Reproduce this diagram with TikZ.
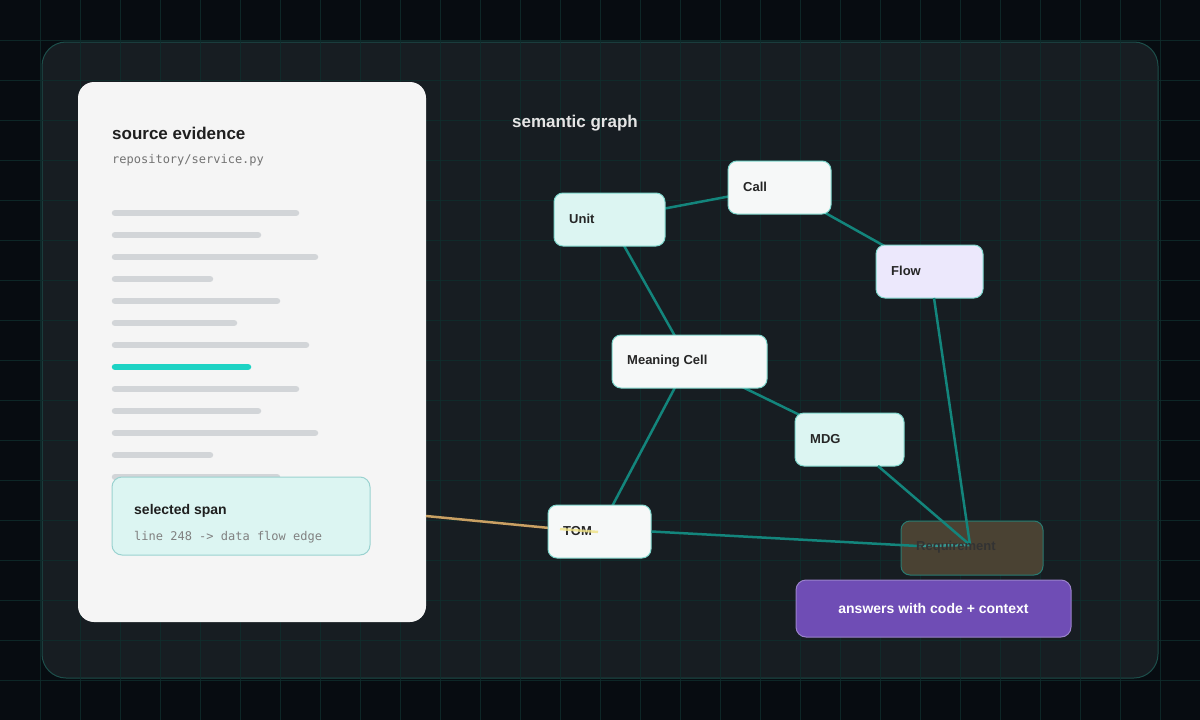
\documentclass[tikz,border=0pt]{standalone}
\usepackage{fontspec}
\setmainfont{Liberation Sans}
\setmonofont{DejaVu Sans Mono}
\begin{document}
\begin{tikzpicture}[x=1pt,y=-1pt,
  lbl/.style={font=\fontsize{13}{15}\selectfont\bfseries,text=black!85,anchor=west,inner sep=0pt},
  edge/.style={draw=teal0,line width=2.5pt},
  bar/.style={line width=6.5pt,line cap=round,draw=gray0}]
\definecolor{bg}{HTML}{070C11}
\definecolor{gridc}{HTML}{0F2E2D}
\definecolor{panel}{HTML}{1A2026}
\definecolor{panelb}{HTML}{1D4E4A}
\definecolor{teal0}{HTML}{13857C}
\definecolor{gray0}{HTML}{D2D5D8}
\definecolor{cyanbar}{HTML}{1DD3C4}
\definecolor{mint}{HTML}{DCF5F2}
\definecolor{mintb}{HTML}{7FD6CC}
\definecolor{wht}{HTML}{F6F8F8}
\definecolor{lav}{HTML}{ECE8FC}
\definecolor{reqf}{HTML}{4A4233}
\definecolor{reqb}{HTML}{2A7A70}
\definecolor{purp}{HTML}{6F4DB5}
\definecolor{gold}{HTML}{C9A063}
\useasboundingbox (0,0) rectangle (1200,720);
\fill[bg] (0,0) rectangle (1200,720);
\node[draw=panelb,fill=panel,fill opacity=0.85,rounded corners=24pt,line width=1pt,minimum width=1116pt,minimum height=636pt,inner sep=0pt] (outer) at (600,360) {};
\foreach \i in {40,80,...,1160} \draw[gridc,line width=1pt,opacity=0.8] (\i,0)--(\i,720);
\foreach \i in {40,80,...,680} \draw[gridc,line width=1pt,opacity=0.8] (0,\i)--(1200,\i);
% source panel
\node[fill=white!96!black,rounded corners=16pt,minimum width=348pt,minimum height=540pt,inner sep=0pt] (src) at (252,352) {};
\node[anchor=west,inner sep=0pt,font=\fontsize{17}{19}\selectfont\bfseries,text=black!88] (t1) at (112,133) {source evidence};
\node[anchor=west,inner sep=0pt,font=\ttfamily\fontsize{12}{14}\selectfont,text=black!55] (t2) at (112,160) {repository/service.py};
\foreach \y/\e in {213/299,235/261,257/318,279/213,301/280,323/237,345/309,389/299,411/261,433/318,455/213,477/280}
  \draw[bar] (115,\y)--(\e-3,\y);
\draw[bar,draw=cyanbar] (115,367)--(248,367);
\draw[gold,line width=2.5pt] (426,516)--(560,529);
\node[fill=mint,draw=mint!70!teal,rounded corners=10pt,line width=1pt,minimum width=258pt,minimum height=78pt,inner sep=0pt] (span) at (241,516) {};
\node[anchor=west,inner sep=0pt,font=\fontsize{14}{16}\selectfont\bfseries,text=black!88] (s1) at (134,511) {selected span};
\node[anchor=west,inner sep=0pt,font=\ttfamily\fontsize{12}{14}\selectfont,text=black!50] (s2) at (134,537) {line 248 -> data flow edge};
% graph
\node[anchor=west,inner sep=0pt,font=\fontsize{17}{19}\selectfont\bfseries,text=white!90!black] (sg) at (512,123) {semantic graph};
\coordinate (rq) at (970,545);
\coordinate (rqw) at (918,546);
\draw[edge] (609,219)--(779,187);
\draw[edge] (779,187)--(929,271);
\draw[edge] (609,219)--(689,361);
\draw[edge] (689,361)--(849,439);
\draw[edge] (689,361)--(599,531);
\tikzset{box/.style={draw=mintb,line width=1pt,rounded corners=9pt,minimum height=53pt,inner sep=0pt}}
\node[box,fill=mint,minimum width=111pt] (unit) at (609.5,219.5) {};
\node[lbl] at (569,219) {Unit};
\node[box,fill=wht,minimum width=103pt] (call) at (779.5,187.5) {};
\node[lbl] at (743,187) {Call};
\node[box,fill=lav,minimum width=107pt] (flow) at (929.5,271.5) {};
\node[lbl] at (891,271) {Flow};
\node[box,fill=wht,minimum width=155pt] (mc) at (689.5,361.5) {};
\node[lbl] at (627,361) {Meaning Cell};
\node[box,fill=mint,minimum width=109pt] (mdg) at (849.5,439.5) {};
\node[lbl] at (810,439) {MDG};
\node[box,fill=wht,minimum width=103pt] (tom) at (599.5,531.5) {};
\node[lbl] at (563,531) {TOM};
\draw[gold!50!yellow!60!white,line width=2.5pt,opacity=0.8] (560,529)--(598,532);
\node[box,fill=reqf,draw=reqb,minimum width=142pt,minimum height=54pt] (req) at (972,548) {};
\draw[edge] (tom.east)--(rqw);
\draw[edge,draw=teal0!85!white] (rqw)--(rq);
\draw[edge] (934,298)--(rq);
\draw[edge] (878,466)--(rq);
\node[lbl,text=black!80] at (916,547) {Requirement};
\node[fill=purp,draw=purp!70!white,line width=1pt,rounded corners=10pt,minimum width=275pt,minimum height=57pt,inner sep=0pt,text=white,font=\fontsize{14}{16}\selectfont\bfseries] (ans) at (933.5,608.5) {answers with code + context};
\end{tikzpicture}
\end{document}
